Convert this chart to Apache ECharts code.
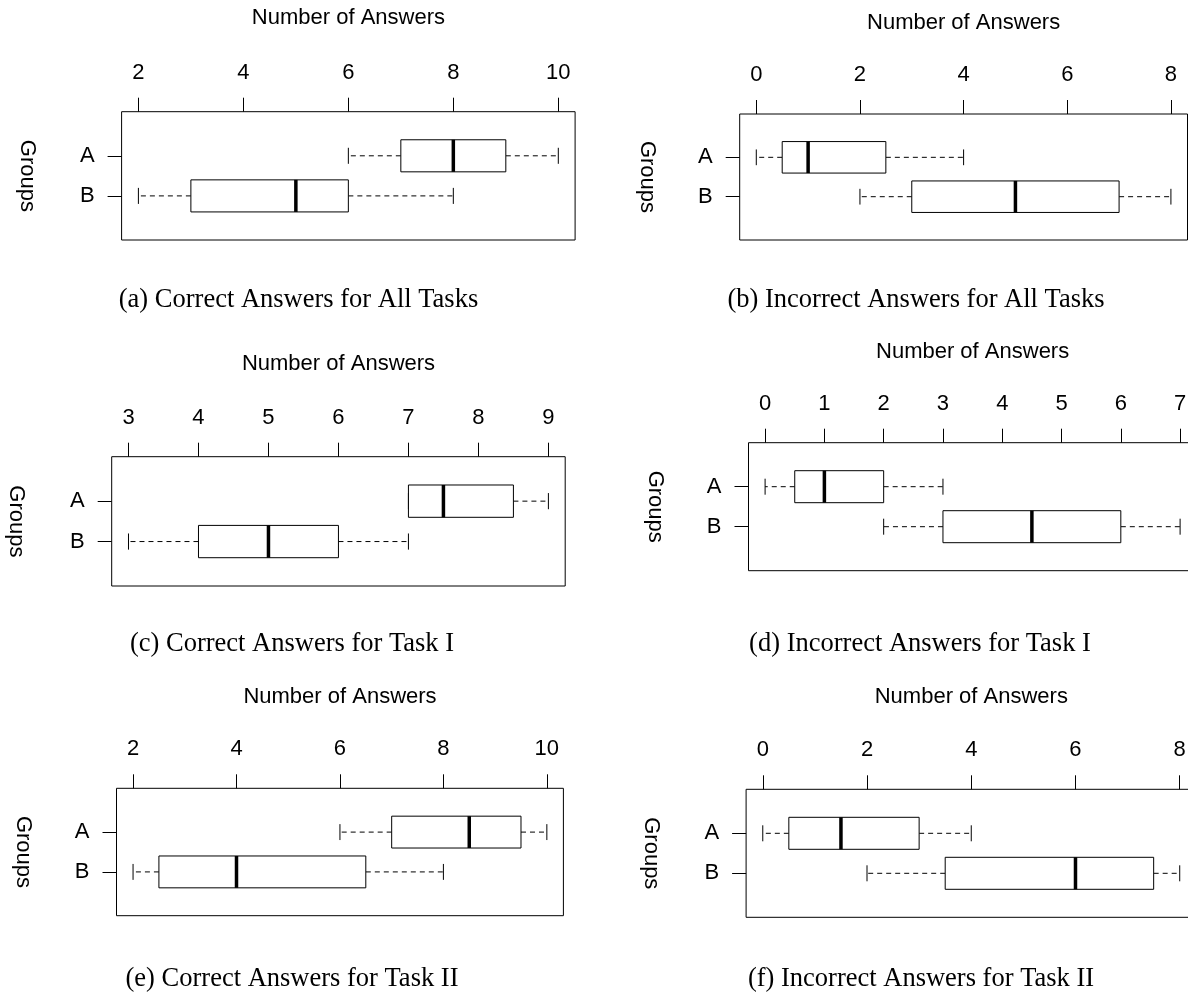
<!DOCTYPE html>
<html>
<head>
<meta charset="utf-8">
<script src="https://cdn.jsdelivr.net/npm/echarts@6/dist/echarts.min.js"></script>
<style>
    html, body { margin: 0; padding: 0; background: #fff; }
    #main { width: 1188px; height: 992px; }
</style>
</head>
<body>
<div id="main"></div>
<script>
// groups, top to bottom
var groups = ['A', 'B'];

// five-number summaries per group: [lower whisker, Q1, median, Q3, upper whisker]
var correctAllTasks = [[6, 7, 8, 9, 10], [2, 3, 5, 6, 8]];
var incorrectAllTasks = [[0, 0.5, 1, 2.5, 4], [2, 3, 5, 7, 8]];
var correctTaskI = [[7, 7, 7.5, 8.5, 9], [3, 4, 5, 6, 7]];
var incorrectTaskI = [[0, 0.5, 1, 2, 3], [2, 3, 4.5, 6, 7]];
var correctTaskII = [[6, 7, 8.5, 9.5, 10], [2, 2.5, 4, 6.5, 8]];
var incorrectTaskII = [[0, 0.5, 1.5, 3, 4], [2, 3.5, 6, 7.5, 8]];

// tick labels of each panel's top axis
var ticksCorrectAll = [2, 4, 6, 8, 10];
var ticksIncorrectAll = [0, 2, 4, 6, 8];
var ticksCorrectI = [3, 4, 5, 6, 7, 8, 9];
var ticksIncorrectI = [0, 1, 2, 3, 4, 5, 6, 7];
var ticksCorrectII = [2, 4, 6, 8, 10];
var ticksIncorrectII = [0, 2, 4, 6, 8];

var captions = [
    '(a) Correct Answers for All Tasks',
    '(b) Incorrect Answers for All Tasks',
    '(c) Correct Answers for Task I',
    '(d) Incorrect Answers for Task I',
    '(e) Correct Answers for Task II',
    '(f) Incorrect Answers for Task II'
];
var axisTitle = 'Number of Answers';
var groupTitle = 'Groups';

var panels = [
    {stats: correctAllTasks, ticks: ticksCorrectAll, left: 121.6, top: 111.7, width: 453.5, height: 128.3, titleY: 18, capX: 298.5, capY: 300, grpX: 27.5, titleX: 348.4},
    {stats: incorrectAllTasks, ticks: ticksIncorrectAll, left: 739.7, top: 114, width: 447.8, height: 126, titleY: 22.7, capX: 916, capY: 300, grpX: 646.6, titleX: 963.6},
    {stats: correctTaskI, ticks: ticksCorrectI, left: 111.7, top: 456.7, width: 453.5, height: 129.3, titleY: 364.3, capX: 292, capY: 644.3, grpX: 16.4, titleX: 338.5},
    {stats: incorrectTaskI, ticks: ticksIncorrectI, left: 748.5, top: 442.7, width: 448.2, height: 128, titleY: 351.7, capX: 920, capY: 644.3, grpX: 655, titleX: 972.6},
    {stats: correctTaskII, ticks: ticksCorrectII, left: 116.5, top: 788.3, width: 446.9, height: 127.4, titleY: 696.7, capX: 292, capY: 979.3, grpX: 22.9, titleX: 340},
    {stats: incorrectTaskII, ticks: ticksIncorrectII, left: 746.1, top: 789.3, width: 450.3, height: 128, titleY: 697.3, capX: 921, capY: 979.3, grpX: 651.2, titleX: 971.3}
];

var SANS = '"Liberation Sans", Arial, Helvetica, sans-serif';
var SERIF = '"Liberation Serif", "Times New Roman", serif';

function renderBox(params, api) {
    var row = api.value(0);
    var lo = api.coord([api.value(1), row]);
    var q1 = api.coord([api.value(2), row]);
    var md = api.coord([api.value(3), row]);
    var q3 = api.coord([api.value(4), row]);
    var hi = api.coord([api.value(5), row]);
    var unit = api.size([0, 1])[1];
    var half = unit * 0.4;
    var cap = unit * 0.2;
    var y = md[1];
    var dash = {stroke: '#000', lineWidth: 1, lineDash: [5, 4], fill: null};
    var solid = {stroke: '#000', lineWidth: 1, fill: null};
    return {
        type: 'group',
        children: [
            {type: 'line', shape: {x1: q1[0], y1: y, x2: lo[0], y2: y}, style: dash},
            {type: 'line', shape: {x1: q3[0], y1: y, x2: hi[0], y2: y}, style: dash},
            {type: 'line', shape: {x1: lo[0], y1: y - cap, x2: lo[0], y2: y + cap}, style: solid},
            {type: 'line', shape: {x1: hi[0], y1: y - cap, x2: hi[0], y2: y + cap}, style: solid},
            {type: 'rect', shape: {x: q1[0], y: y - half, width: q3[0] - q1[0], height: half * 2},
                style: {fill: '#fff', stroke: '#000', lineWidth: 1}},
            {type: 'line', shape: {x1: md[0], y1: y - half, x2: md[0], y2: y + half},
                style: {stroke: '#000', lineWidth: 3.5}}
        ]
    };
}

var grids = [], xAxes = [], yAxes = [], series = [], graphics = [];

panels.forEach(function (p, i) {
    var lows = p.stats.map(function (s) { return s[0]; });
    var highs = p.stats.map(function (s) { return s[4]; });
    var lo = Math.min.apply(null, lows);
    var hi = Math.max.apply(null, highs);
    var pad = (hi - lo) * 0.04;

    grids.push({
        left: p.left, top: p.top, width: p.width, height: p.height,
        show: true, borderColor: '#000', borderWidth: 1, backgroundColor: 'transparent',
        containLabel: false, outerBoundsMode: 'none'
    });
    xAxes.push({
        type: 'value', gridIndex: i, position: 'top',
        min: lo - pad, max: hi + pad,
        axisLine: {show: false, onZero: false},
        axisTick: {show: true, inside: false, length: 14, customValues: p.ticks,
            lineStyle: {color: '#000', width: 1}},
        axisLabel: {show: true, customValues: p.ticks, margin: 28, color: '#000',
            fontSize: 22, fontFamily: SANS},
        splitLine: {show: false}
    });
    yAxes.push({
        type: 'value', gridIndex: i, inverse: true,
        min: -0.1, max: 3.1,
        axisLine: {show: false, onZero: false},
        axisTick: {show: true, inside: false, length: 14, customValues: [1, 2],
            lineStyle: {color: '#000', width: 1}},
        axisLabel: {show: true, customValues: [1, 2], margin: 27, color: '#000',
            fontSize: 22, fontFamily: SANS,
            formatter: function (v) { return groups[Math.round(v) - 1]; }},
        splitLine: {show: false}
    });
    series.push({
        type: 'custom', xAxisIndex: i, yAxisIndex: i,
        renderItem: renderBox, silent: true,
        encode: {x: [1, 2, 3, 4, 5], y: 0},
        data: p.stats.map(function (s, k) { return [k + 1].concat(s); })
    });

    graphics.push({
        type: 'text', x: p.titleX, y: p.titleY, silent: true,
        style: {text: axisTitle, fill: '#000', font: '22px ' + SANS,
            align: 'center', verticalAlign: 'middle', textAlign: 'center', textVerticalAlign: 'middle'}
    });
    graphics.push({
        type: 'text', x: p.grpX, y: p.top + p.height / 2, rotation: -Math.PI / 2, silent: true,
        style: {text: groupTitle, fill: '#000', font: '22px ' + SANS,
            align: 'center', verticalAlign: 'middle', textAlign: 'center', textVerticalAlign: 'middle'}
    });
    graphics.push({
        type: 'text', x: p.capX, y: p.capY, silent: true,
        style: {text: captions[i], fill: '#000', font: '26.5px ' + SERIF,
            align: 'center', verticalAlign: 'middle', textAlign: 'center', textVerticalAlign: 'middle'}
    });
});

var chart = echarts.init(document.getElementById('main'), null, {renderer: 'canvas'});
chart.setOption({
    animation: false,
    backgroundColor: '#fff',
    grid: grids,
    xAxis: xAxes,
    yAxis: yAxes,
    series: series,
    graphic: graphics
});
</script>
</body>
</html>
